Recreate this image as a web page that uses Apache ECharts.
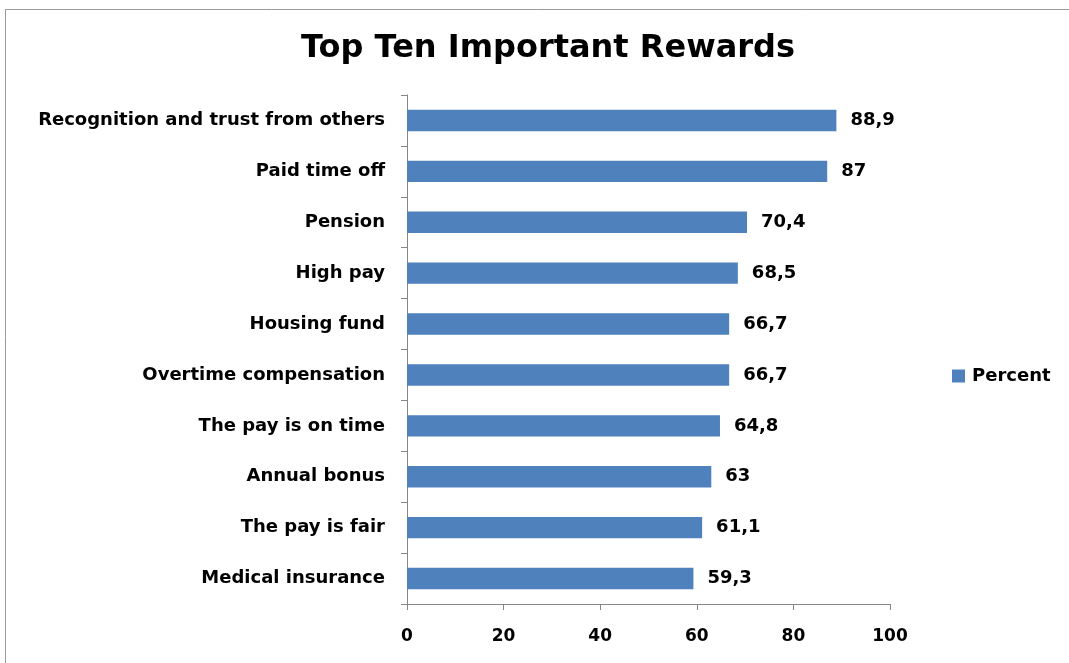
<!DOCTYPE html>
<html>
<head>
<meta charset="utf-8">
<script src="https://cdn.jsdelivr.net/npm/echarts@6/dist/echarts.min.js"></script>
<style>
  html, body { margin: 0; padding: 0; background: #ffffff; }
  #chart { width: 1069px; height: 663px; }
</style>
</head>
<body>
<div id="chart"></div>
<script>
// Rewards ranked from most to least important (top to bottom)
const categories = [
  'Recognition and trust from others',
  'Paid time off',
  'Pension',
  'High pay',
  'Housing fund',
  'Overtime compensation',
  'The pay is on time',
  'Annual bonus',
  'The pay is fair',
  'Medical insurance'
];
const percentValues = [88.9, 87, 70.4, 68.5, 66.7, 66.7, 64.8, 63, 61.1, 59.3];
const xTicks = [0, 20, 40, 60, 80, 100];

const FONT = '"DejaVu Sans", "Open Sans", sans-serif';
const chart = echarts.init(document.getElementById('chart'), null, { renderer: 'canvas' });

chart.setOption({
  animation: false,
  backgroundColor: '#ffffff',
  title: {
    text: 'Top Ten Important Rewards',
    left: 543,
    top: 28,
    textAlign: 'center',
    textStyle: { fontFamily: FONT, fontSize: 32, fontWeight: 'bold', color: '#000000' }
  },
  graphic: [{
    type: 'rect',
    shape: { x: 5.5, y: 9.5, width: 1075, height: 670 },
    style: { fill: 'none', stroke: '#9a9a9a', lineWidth: 1 },
    silent: true
  }],
  legend: {
    data: ['Percent'],
    left: 947,
    top: 362,
    orient: 'vertical',
    icon: 'rect',
    itemWidth: 13,
    itemHeight: 13,
    itemGap: 6,
    itemStyle: { borderWidth: 0 },
    textStyle: { fontFamily: FONT, fontSize: 18, fontWeight: 'bold', color: '#000000', padding: [0, 0, 0, 2] }
  },
  grid: { left: 407, right: 1069 - 890, top: 95, bottom: 663 - 604, containLabel: false },
  xAxis: {
    type: 'value',
    min: xTicks[0],
    max: xTicks[xTicks.length - 1],
    interval: xTicks[1] - xTicks[0],
    axisLine: { show: true, lineStyle: { color: '#868686', width: 1 } },
    axisTick: { show: true, length: 6, lineStyle: { color: '#868686' } },
    splitLine: { show: false },
    axisLabel: { margin: 24, fontFamily: FONT, fontSize: 17, fontWeight: 'bold', color: '#000000' }
  },
  yAxis: {
    type: 'category',
    inverse: true,
    data: categories,
    axisLine: { show: true, lineStyle: { color: '#868686', width: 1 } },
    axisTick: { show: true, length: 6, lineStyle: { color: '#868686' } },
    axisLabel: { margin: 22, fontFamily: FONT, fontSize: 18, fontWeight: 'bold', color: '#000000' }
  },
  series: [{
    name: 'Percent',
    type: 'bar',
    data: percentValues,
    barCategoryGap: '58%',
    itemStyle: { color: '#4f81bd' },
    label: {
      show: true,
      position: 'right',
      distance: 14,
      fontFamily: FONT,
      fontSize: 18,
      fontWeight: 'bold',
      color: '#000000',
      formatter: p => String(p.value).replace('.', ',')
    }
  }]
});
</script>
</body>
</html>
